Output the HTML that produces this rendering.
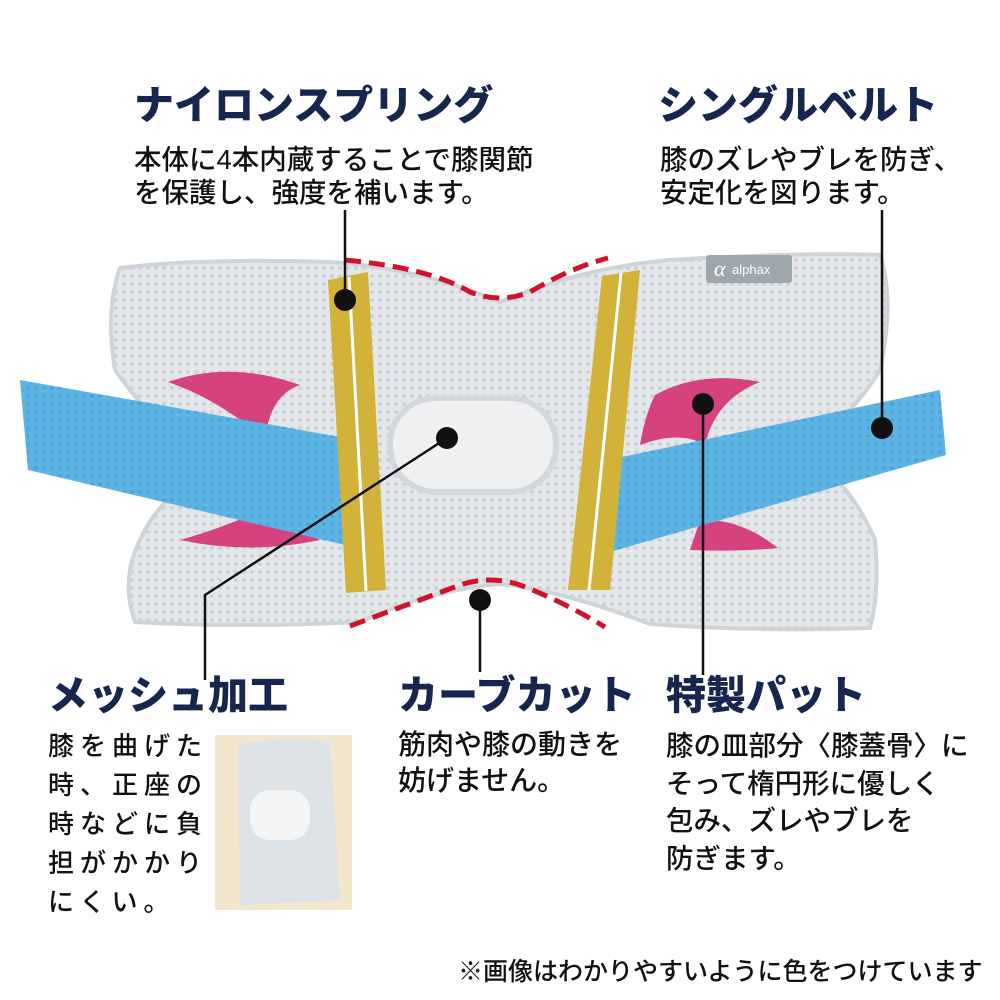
<!DOCTYPE html>
<html><head><meta charset="utf-8"><style>
html,body{margin:0;padding:0;background:#fff;}
#c{position:relative;width:1000px;height:1000px;overflow:hidden;font-family:"Liberation Sans","Noto Sans CJK JP",sans-serif;}
.h{position:absolute;color:#16264f;font-weight:900;font-size:40px;line-height:44px;white-space:nowrap;}
.t{position:absolute;color:#111;font-size:26px;white-space:nowrap;font-weight:500;}
svg{position:absolute;left:0;top:0;}
</style></head><body><div id="c">
<svg width="1000" height="1000" viewBox="0 0 1000 1000">
<defs>
<pattern id="m" width="8" height="8" patternUnits="userSpaceOnUse"><rect width="8" height="8" fill="#e4e7ea"/><circle cx="4" cy="4" r="1.8" fill="#c9ced3"/></pattern>
<pattern id="mb" width="8" height="8" patternUnits="userSpaceOnUse"><rect width="8" height="8" fill="#5cb4e4"/><circle cx="4" cy="4" r="1.6" fill="#4a9fd0"/></pattern>
</defs>
<path d="M120,268 Q200,258 330,262 Q420,268 500,302 Q580,268 670,260 Q800,252 880,255 Q895,300 880,370 Q850,420 800,450 Q850,480 875,540 Q880,590 870,628 Q760,632 650,624 Q560,590 500,584 Q430,590 360,622 Q240,628 135,622 Q120,580 140,540 Q160,495 210,470 Q150,420 115,370 Q105,310 120,268 Z" fill="url(#m)" stroke="#cfd4d8" stroke-width="4"/>
<path d="M168,382 Q230,360 300,385 Q270,395 265,440 Q220,400 168,382 Z" fill="#d6417f"/>
<path d="M180,540 Q250,555 320,540 Q290,520 285,495 Q250,520 180,540 Z" fill="#d6417f"/>
<path d="M655,395 Q700,370 760,382 Q715,400 705,445 Q680,430 640,445 Q645,415 655,395 Z" fill="#d6417f"/>
<path d="M700,520 Q740,518 778,548 Q740,552 690,550 Z" fill="#d6417f"/>
<polygon points="20,380 340,437 345,545 28,470" fill="url(#mb)"/>
<polygon points="598,462 940,390 946,455 610,552" fill="url(#mb)"/>
<rect x="390" y="398" width="166" height="94" rx="46" fill="#eef0f1" stroke="#d4d8dc" stroke-width="6"/>
<polygon points="328,280 368,272 386,590 346,593" fill="#d3b23a"/>
<line x1="349" y1="277" x2="366" y2="591" stroke="#fff" stroke-width="3"/>
<polygon points="602,276 640,270 610,590 568,590" fill="#d3b23a"/>
<line x1="621" y1="273" x2="589" y2="590" stroke="#fff" stroke-width="3"/>
<rect x="706" y="255" width="86" height="28" rx="3" fill="#9ea6ae"/>
<text x="714" y="276" fill="#fff" font-size="22" font-style="italic" font-family="Liberation Serif,serif">α</text>
<text x="732" y="274" fill="#fff" font-size="13" font-family="Liberation Sans,sans-serif">alphax</text>
<path d="M345,260 Q430,268 470,292 Q500,304 530,292 Q570,268 608,258" fill="none" stroke="#d0122a" stroke-width="5" stroke-dasharray="16,8"/>
<path d="M350,626 Q420,600 460,585 Q490,575 520,585 Q560,600 605,627" fill="none" stroke="#d0122a" stroke-width="5" stroke-dasharray="16,8"/>
<g stroke="#111" stroke-width="2.5" fill="none">
<line x1="345" y1="300" x2="345" y2="210"/>
<polyline points="447,438 205,595 205,680"/>
<line x1="703" y1="404" x2="703" y2="675"/>
<line x1="882" y1="428" x2="882" y2="210"/>
<line x1="480" y1="600" x2="480" y2="672"/>
</g>
<g fill="#111">
<circle cx="345" cy="300" r="11"/><circle cx="447" cy="438" r="11"/><circle cx="703" cy="404" r="11"/><circle cx="882" cy="428" r="11"/><circle cx="480" cy="600" r="11"/>
</g>
<rect x="215" y="735" width="137" height="175" fill="#f2e6cc"/>
<path d="M238,745 Q290,735 330,742 L340,900 L240,905 Z" fill="#dde2e6"/>
<rect x="250" y="790" width="60" height="50" rx="20" fill="#f4f4f4"/>
</svg>
<div class="h" style="left:134px;top:84px">ナイロンスプリング</div>
<div class="t" style="left:134px;top:143px;line-height:33px;font-size:27.5px">本体に4本内蔵することで膝関節<br>を保護し、強度を補います。</div>
<div class="h" style="left:658px;top:84px">シングルベルト</div>
<div class="t" style="left:660px;top:143px;line-height:33px;font-size:27.5px">膝のズレやブレを防ぎ、<br>安定化を図ります。</div>
<div class="h" style="left:48px;top:674px">メッシュ加工</div>
<div class="t" style="left:48px;top:727px;line-height:39px;letter-spacing:6px">膝を曲げた<br>時、正座の<br>時などに負<br>担がかかり<br>にくい。</div>
<div class="h" style="left:398px;top:674px">カーブカット</div>
<div class="t" style="left:398px;top:727px;line-height:36px;font-size:28px">筋肉や膝の動きを<br>妨げません。</div>
<div class="h" style="left:666px;top:674px">特製パット</div>
<div class="t" style="left:666px;top:727px;line-height:37.5px;font-size:27.5px">膝の皿部分〈膝蓋骨〉に<br>そって楕円形に優しく<br>包み、ズレやブレを<br>防ぎます。</div>
<div class="t" style="left:458px;top:952px;font-size:25px">※画像はわかりやすいように色をつけています</div>
</div></body></html>
